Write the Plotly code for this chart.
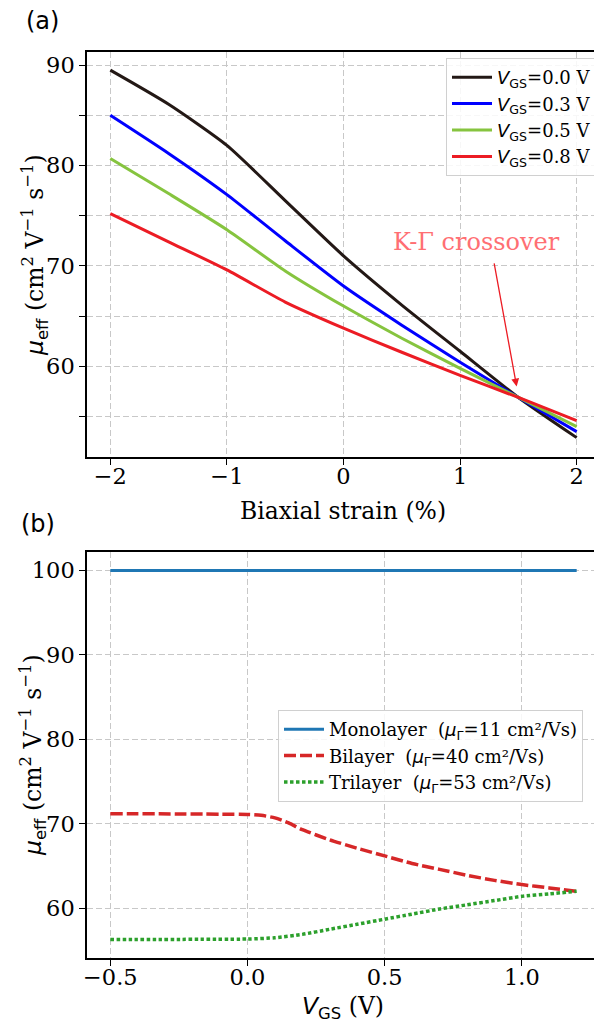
import plotly.graph_objects as go

# ---------------- data: panel (a) ----------------
strain = [-2.0, -1.5, -1.0, -0.5, 0.0, 0.5, 1.0, 1.5, 2.0]
mu_v00 = [89.5, 86.1, 82.0, 76.5, 71.0, 66.1, 61.5, 56.9, 52.9]
mu_v03 = [85.0, 81.2, 77.1, 72.5, 68.0, 64.1, 60.4, 56.9, 53.5]
mu_v05 = [80.7, 77.2, 73.6, 69.5, 66.0, 62.8, 59.8, 56.9, 54.0]
mu_v08 = [75.2, 72.4, 69.6, 66.4, 63.8, 61.4, 59.1, 56.9, 54.6]
vgs_labels_a = ["0.0", "0.3", "0.5", "0.8"]

# ---------------- data: panel (b) ----------------
vgs_mono = [-0.5, 1.2]
mu_mono = [100.0, 100.0]
vgs_bi = [-0.5, 0.0, 0.05, 0.1, 0.15, 0.2, 0.3, 0.4, 0.5, 0.6, 0.7, 0.8, 0.9, 1.0, 1.1, 1.2]
mu_bi = [71.2, 71.1, 71.0, 70.7, 70.1, 69.3, 68.1, 67.1, 66.2, 65.3, 64.6, 63.9, 63.3, 62.8, 62.4, 62.0]
vgs_tri = [-0.5, 0.0, 0.1, 0.2, 0.3, 0.4, 0.5, 0.6, 0.7, 0.8, 0.9, 1.0, 1.1, 1.2]
mu_tri = [56.3, 56.35, 56.5, 56.9, 57.5, 58.1, 58.7, 59.3, 59.9, 60.4, 60.9, 61.4, 61.7, 62.0]
mu_gamma = ["11", "40", "53"]

SERIF = "DejaVu Serif"
SANS = "DejaVu Sans"
NB2 = "\u00a0\u00a0"

def sans(s):
    return f'<span style="font-family:{SANS}">{s}</span>'

VGS = sans("<i>V</i><sub>GS</sub>")
MU_EFF = sans("<i>μ</i><sub>eff</sub>")
MU_G = sans("<i>μ</i><sub>Γ</sub>")
YTITLE = f"{MU_EFF} (cm<sup>2</sup> V<sup>−1</sup> s<sup>−1</sup>)"

# page body has an 8px margin: work in screen pixels and shift
OFF = 8
W, H = 602 - OFF, 1024 - OFF
ML, MR = 87 - OFF, 2
PW = W - ML - MR

def px(sx):
    return (sx - OFF - ML) / PW

def py(sy):
    return 1 - (sy - OFF) / H

fig = go.Figure()

colors_a = ["#231815", "#0000ff", "#86c43f", "#ec1c24"]
series_a = [mu_v00, mu_v03, mu_v05, mu_v08]
for i, (lab, ys, c) in enumerate(zip(vgs_labels_a, series_a, colors_a)):
    fig.add_trace(go.Scatter(
        x=strain, y=ys, mode="lines",
        line=dict(color=c, width=3, shape="spline", smoothing=0.6),
        name=f"{VGS}={lab} V", xaxis="x", yaxis="y", legend="legend",
        legendgroup=f"a{i}"))

names_b = ["Monolayer", "Bilayer", "Trilayer"]
xs_b = [vgs_mono, vgs_bi, vgs_tri]
ys_b = [mu_mono, mu_bi, mu_tri]
lines_b = [dict(color="#1f77b4", width=3),
           dict(color="#d62728", width=3.5, dash="12px,4px", shape="spline", smoothing=0.6),
           dict(color="#2ca02c", width=3.5, dash="3.5px,2.5px", shape="spline", smoothing=0.6)]
for i in range(3):
    fig.add_trace(go.Scatter(
        x=xs_b[i], y=ys_b[i], mode="lines", line=lines_b[i],
        name=f"{names_b[i]}{NB2}({MU_G}={mu_gamma[i]} cm²/Vs)",
        xaxis="x2", yaxis="y2", legend="legend2", legendgroup=f"b{i}"))

GRIDC = "#c8c8c8"
common = dict(showline=True, linecolor="black", linewidth=1.5, mirror=True,
              ticks="outside", ticklen=6, tickwidth=1.3, tickcolor="black",
              tickfont=dict(family=SERIF, size=22.5, color="black"),
              zeroline=False, showgrid=True, gridcolor=GRIDC, griddash="6px,3px", gridwidth=1)

fig.update_layout(
    width=W, height=H,
    margin=dict(l=ML, r=MR, t=0, b=0, autoexpand=False),
    paper_bgcolor="white", plot_bgcolor="white",
    font=dict(family=SERIF, color="black"),
    xaxis=dict(domain=[0, 1], range=[-2.2, 2.2], dtick=1, anchor="y",
               ticklabelstandoff=-8, **common),
    yaxis=dict(domain=[py(457), py(52)], range=[50.97, 91.3], dtick=10, anchor="x",
               minor=dict(dtick=5, ticklen=6, tickwidth=1.3, tickcolor="black", ticks="outside",
                          showgrid=True, gridcolor=GRIDC, griddash="6px,3px"),
               **common),
    xaxis2=dict(domain=[0, 1], range=[-0.585, 1.285], dtick=0.5, tickformat=".1f",
                anchor="y2", ticklabelstandoff=-8, **common),
    yaxis2=dict(domain=[py(958), py(552)], range=[54.1, 102.2], dtick=10, anchor="x2",
                **common),
    legend=dict(x=px(597), y=py(58), xanchor="right", yanchor="top",
                bgcolor="rgba(255,255,255,0.85)", bordercolor="#d0d0d0", borderwidth=1,
                font=dict(family=SERIF, size=18, color="black"), tracegroupgap=0,
                itemwidth=40),
    legend2=dict(x=px(583), y=py(710), xanchor="right", yanchor="top",
                 bgcolor="rgba(255,255,255,0.85)", bordercolor="#d0d0d0", borderwidth=1,
                 font=dict(family=SERIF, size=18, color="black"), tracegroupgap=0,
                 itemwidth=40),
)

def label(sx, sy, text, size, angle=0, family=SERIF, color="black"):
    fig.add_annotation(x=px(sx), y=py(sy), xref="paper", yref="paper", showarrow=False,
                       xanchor="center", yanchor="middle", textangle=angle, text=text,
                       font=dict(family=family, size=size, color=color))

# axis titles
label(343, 511, "Biaxial strain (%)", 23.5)
label(343, 1007, f"{VGS} (V)", 23.5)
label(35, 255, YTITLE, 23.5, angle=-90)
label(33, 755, YTITLE, 23.5, angle=-90)

# crossover annotation
fig.add_annotation(x=1.485, y=58.0, ax=1.29, ay=70.4, xref="x", yref="y",
                   axref="x", ayref="y", showarrow=True, arrowhead=2, arrowsize=1.2,
                   arrowwidth=1.3, arrowcolor="#ec1c24", text="")
fig.add_annotation(x=1.14, y=72.4, xref="x", yref="y", showarrow=False,
                   xanchor="center", yanchor="middle",
                   text="K-Γ crossover", font=dict(family=SERIF, size=24, color="#ff6f73"))

# panel labels
label(42, 21, "(a)", 24, family=SANS)
label(38, 524, "(b)", 24, family=SANS)

fig.write_html("out.html")
